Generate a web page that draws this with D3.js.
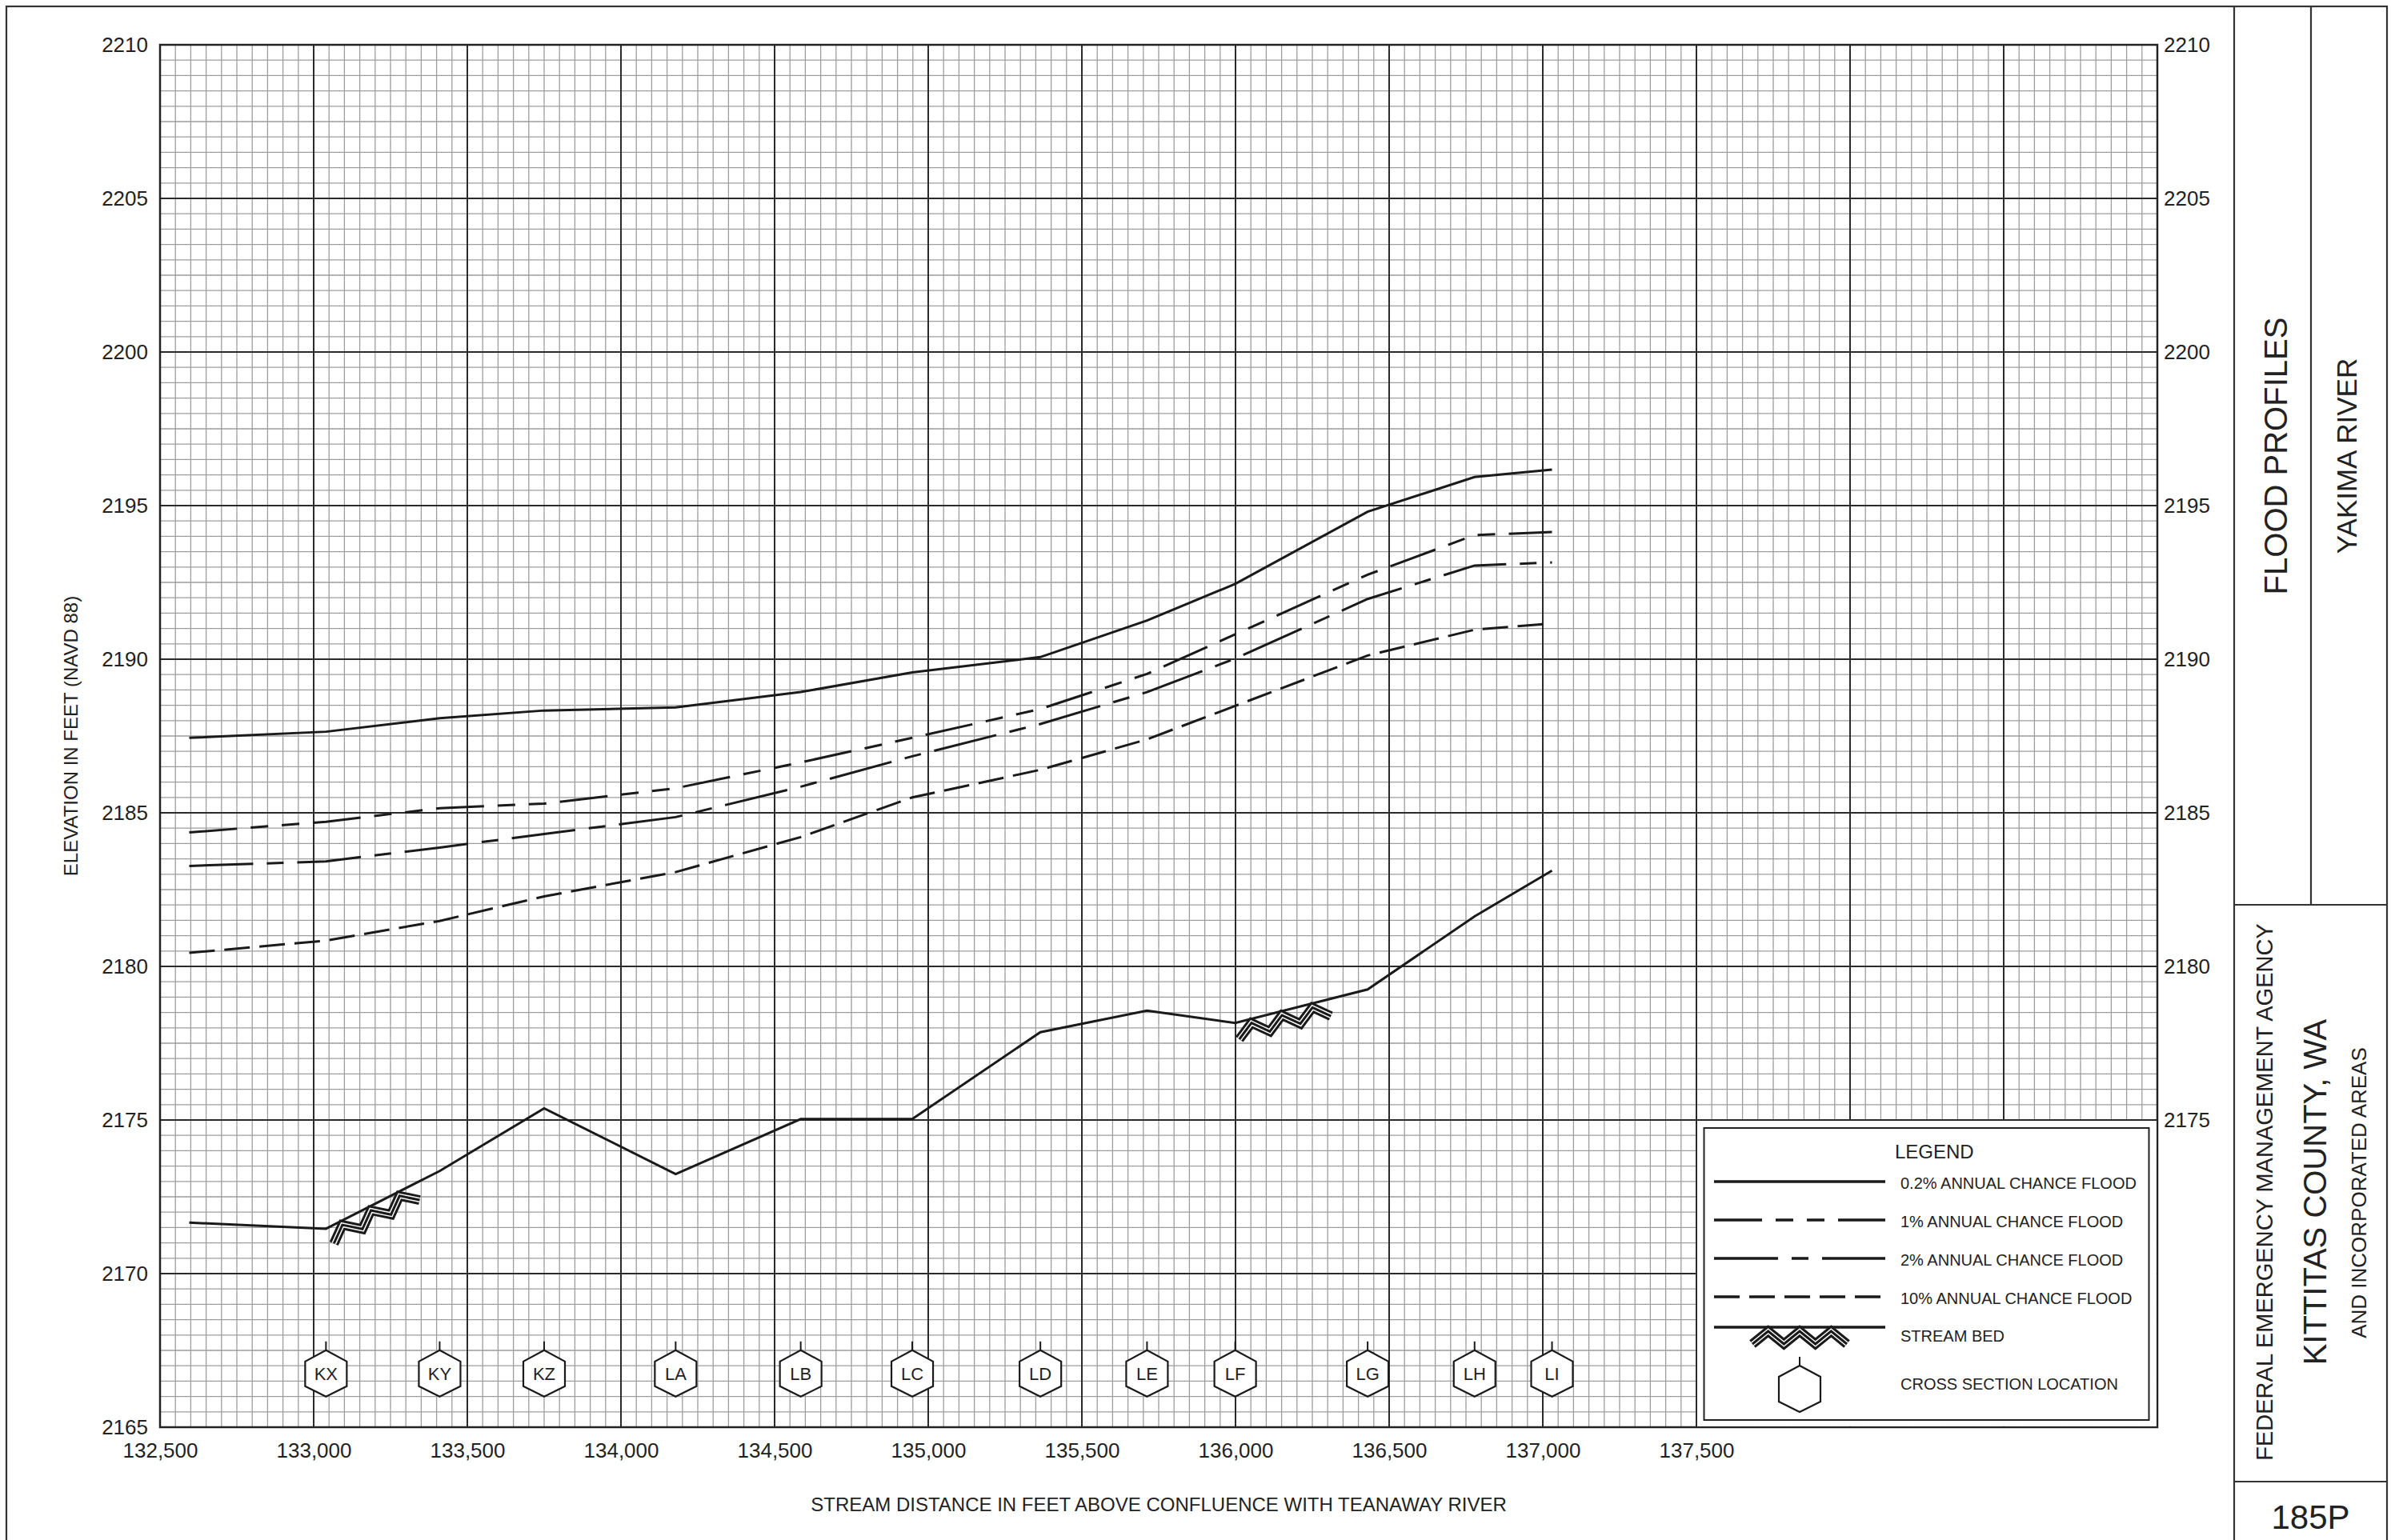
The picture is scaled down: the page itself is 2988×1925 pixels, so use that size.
<!DOCTYPE html>
<html>
<head>
<meta charset="utf-8">
<script src="https://cdn.jsdelivr.net/npm/d3@7"></script>
<style>
body { margin: 0; background: #fff; }
text { font-family: "Liberation Sans", Arial, sans-serif; fill: #222; }
</style>
</head>
<body>
<div id="chart-area"></div>
<script>
// cross sections along the profile
var xsLabels = ["KX", "KY", "KZ", "LA", "LB", "LC", "LD", "LE", "LF", "LG", "LH", "LI"];
var xsDist = [133040, 133410, 133750, 134178, 134585, 134948, 135365, 135712, 135999, 136430, 136778, 137030];
// profiles start a bit before KX
var profileDist = [132595].concat(xsDist);

var flood02 = [2187.44, 2187.64, 2188.08, 2188.33, 2188.43, 2188.93, 2189.57, 2190.07, 2191.26, 2192.45, 2194.80, 2195.93, 2196.17];
var flood1 = [2184.36, 2184.71, 2185.15, 2185.30, 2185.80, 2186.64, 2187.44, 2188.38, 2189.52, 2190.81, 2192.75, 2194.04, 2194.14];
var flood2 = [2183.27, 2183.42, 2183.87, 2184.31, 2184.86, 2185.85, 2186.84, 2187.89, 2188.93, 2190.02, 2191.96, 2193.05, 2193.15];
var flood10 = [2180.44, 2180.84, 2181.48, 2182.28, 2183.07, 2184.21, 2185.50, 2186.40, 2187.39, 2188.48, 2190.12, 2190.96, 2191.16];
var streamBed = [2171.66, 2171.46, 2173.34, 2175.38, 2173.24, 2175.03, 2175.03, 2177.86, 2178.56, 2178.16, 2179.25, 2181.63, 2183.12];

// stream bed hatching ranges (feet)
var hatchFrom = [133041, 135999];
var hatchTo = [133320, 136297];

var xTicks = [132500, 133000, 133500, 134000, 134500, 135000, 135500, 136000, 136500, 137000, 137500];
var yTicks = [2165, 2170, 2175, 2180, 2185, 2190, 2195, 2200, 2205, 2210];
var yTicksRight = [2175, 2180, 2185, 2190, 2195, 2200, 2205, 2210];

var legendNames = ["0.2% ANNUAL CHANCE FLOOD", "1% ANNUAL CHANCE FLOOD", "2% ANNUAL CHANCE FLOOD", "10% ANNUAL CHANCE FLOOD"];
var dashes = ["none", "60,17,22,17,22,17", "80,17,21,17", "32,12"];

var width = 2988;
var height = 1925;
var plot = {left: 200, right: 2696, top: 56, bottom: 1784};
var font = "'Liberation Sans', Arial, sans-serif";

var svg = d3.select("#chart-area").append("svg")
    .attr("width", width)
    .attr("height", height);

var x = d3.scaleLinear().domain([132500, 139000]).range([plot.left, plot.right]);
var y = d3.scaleLinear().domain([2165, 2210]).range([plot.bottom, plot.top]);

// grid
var minorX = d3.range(132500, 139001, 50).filter(d => d % 500 != 0);
var majorX = d3.range(132500, 139001, 500);
var minorY = d3.range(2165, 2210.01, 0.5).filter(d => d % 5 != 0);
var majorY = d3.range(2165, 2210.01, 5);

var grid = svg.append("g");
grid.selectAll(".mx").data(minorX).enter().append("line")
    .attr("x1", d => x(d)).attr("x2", d => x(d))
    .attr("y1", plot.top).attr("y2", plot.bottom)
    .attr("stroke", "#9e9e9e").attr("stroke-width", 1.3);
grid.selectAll(".my").data(minorY).enter().append("line")
    .attr("x1", plot.left).attr("x2", plot.right)
    .attr("y1", d => y(d)).attr("y2", d => y(d))
    .attr("stroke", "#9e9e9e").attr("stroke-width", 1.3);
grid.selectAll(".Mx").data(majorX).enter().append("line")
    .attr("x1", d => x(d)).attr("x2", d => x(d))
    .attr("y1", plot.top).attr("y2", plot.bottom)
    .attr("stroke", "#2b2b2b").attr("stroke-width", 2);
grid.selectAll(".My").data(majorY).enter().append("line")
    .attr("x1", plot.left).attr("x2", plot.right)
    .attr("y1", d => y(d)).attr("y2", d => y(d))
    .attr("stroke", "#2b2b2b").attr("stroke-width", 2);

svg.append("rect")
    .attr("x", plot.left).attr("y", plot.top)
    .attr("width", plot.right - plot.left).attr("height", plot.bottom - plot.top)
    .attr("fill", "none").attr("stroke", "#222").attr("stroke-width", 2.5);

// axes
var leftAxis = d3.axisLeft(y).tickValues(yTicks).tickSize(0).tickPadding(15).tickFormat(d3.format("d"));
var la = svg.append("g").attr("transform", "translate(" + plot.left + ",0)").call(leftAxis);
var rightAxis = d3.axisRight(y).tickValues(yTicksRight).tickSize(0).tickPadding(8).tickFormat(d3.format("d"));
var ra = svg.append("g").attr("transform", "translate(" + plot.right + ",0)").call(rightAxis);
var bottomAxis = d3.axisBottom(x).tickValues(xTicks).tickSize(0).tickPadding(20).tickFormat(d3.format(","));
var ba = svg.append("g").attr("transform", "translate(0," + plot.bottom + ")").call(bottomAxis);
[la, ra, ba].forEach(a => {
    a.select(".domain").remove();
    a.attr("font-size", 26).attr("font-family", font);
    a.selectAll("text").attr("fill", "#222");
});

svg.append("text")
    .attr("x", (plot.left + plot.right) / 2)
    .attr("y", 1889)
    .attr("font-size", 24)
    .attr("text-anchor", "middle")
    .text("STREAM DISTANCE IN FEET ABOVE CONFLUENCE WITH TEANAWAY RIVER");
svg.append("text")
    .attr("transform", "translate(97," + ((plot.top + plot.bottom) / 2) + ") rotate(-90)")
    .attr("font-size", 24)
    .attr("text-anchor", "middle")
    .text("ELEVATION IN FEET (NAVD 88)");

// profiles
var line = d3.line().x(d => x(d[0])).y(d => y(d[1]));
var series = [flood02, flood1, flood2, flood10];
series.forEach((s, i) => {
    svg.append("path")
        .attr("d", line(profileDist.map((d, j) => [d, s[j]])))
        .attr("fill", "none")
        .attr("stroke", "#1a1a1a")
        .attr("stroke-width", 3)
        .attr("stroke-dasharray", dashes[i]);
});
svg.append("path")
    .attr("d", line(profileDist.map((d, j) => [d, streamBed[j]])))
    .attr("fill", "none").attr("stroke", "#1a1a1a").attr("stroke-width", 3);

// triple-line zigzag hatch under a segment
function hatch(p0, p1, depth) {
    var dx = p1[0] - p0[0], dy = p1[1] - p0[1];
    var L = Math.sqrt(dx * dx + dy * dy);
    var ux = dx / L, uy = dy / L;
    var nx = -uy, ny = ux;
    var pts = d3.range(7).map(i => {
        var t = i / 6 * L;
        var off = (i % 2 == 0 ? depth : 0) + 5;
        return [p0[0] + ux * t + nx * off, p0[1] + uy * t + ny * off];
    });
    var g = svg.append("g").attr("fill", "none").attr("stroke-linejoin", "miter");
    var d = d3.line()(pts);
    g.append("path").attr("d", d).attr("stroke", "#1a1a1a").attr("stroke-width", 12);
    g.append("path").attr("d", d).attr("stroke", "#fff").attr("stroke-width", 6);
    g.append("path").attr("d", d).attr("stroke", "#1a1a1a").attr("stroke-width", 3);
}
var bedAt = d3.scaleLinear().domain(profileDist).range(streamBed);
hatchFrom.forEach((f, i) => {
    hatch([x(f), y(bedAt(f))], [x(hatchTo[i]), y(bedAt(hatchTo[i]))], 16);
});

// cross-section markers
function hexagon(g, cx, cy) {
    var pts = [[cx, cy - 29], [cx + 26, cy - 15], [cx + 26, cy + 16], [cx, cy + 29], [cx - 26, cy + 16], [cx - 26, cy - 15]];
    g.append("line").attr("x1", cx).attr("x2", cx).attr("y1", cy - 40).attr("y2", cy - 29)
        .attr("stroke", "#1a1a1a").attr("stroke-width", 2);
    g.append("polygon").attr("points", pts.map(p => p.join(",")).join(" "))
        .attr("fill", "#fff").attr("stroke", "#1a1a1a").attr("stroke-width", 2.2);
}
var xsY = y(2166.75);
xsLabels.forEach((lab, i) => {
    var g = svg.append("g");
    hexagon(g, x(xsDist[i]), xsY);
    g.append("text").attr("x", x(xsDist[i])).attr("y", xsY + 8)
        .attr("font-size", 22).attr("text-anchor", "middle").text(lab);
});

// legend
var lx0 = x(137500), ly0 = y(2175);
svg.append("rect").attr("x", lx0 + 1).attr("y", ly0 + 1)
    .attr("width", plot.right - lx0 - 2.2).attr("height", plot.bottom - ly0 - 2.2)
    .attr("fill", "#fff");
svg.append("rect").attr("x", lx0 + 9.5).attr("y", ly0 + 10)
    .attr("width", plot.right - lx0 - 20).attr("height", plot.bottom - ly0 - 19)
    .attr("fill", "none").attr("stroke", "#222").attr("stroke-width", 2);
svg.append("text").attr("x", 2368).attr("y", 1448).attr("font-size", 24).text("LEGEND");
var rowY = [1477, 1525, 1573, 1621];
legendNames.forEach((n, i) => {
    svg.append("line").attr("x1", 2142).attr("x2", 2356).attr("y1", rowY[i]).attr("y2", rowY[i])
        .attr("stroke", "#1a1a1a").attr("stroke-width", 3.3).attr("stroke-dasharray", dashes[i]);
    svg.append("text").attr("x", 2375).attr("y", rowY[i] + 9).attr("font-size", 20).text(n);
});
svg.append("line").attr("x1", 2142).attr("x2", 2356).attr("y1", 1659).attr("y2", 1659)
    .attr("stroke", "#1a1a1a").attr("stroke-width", 3.5);
hatch([2190, 1659], [2308, 1659], 16);
svg.append("text").attr("x", 2375).attr("y", 1677).attr("font-size", 20).text("STREAM BED");
hexagon(svg.append("g"), 2249, 1736);
svg.append("text").attr("x", 2375).attr("y", 1737).attr("font-size", 20).text("CROSS SECTION LOCATION");

// sheet border and title block
var border = svg.append("g").attr("stroke", "#333").attr("stroke-width", 2.2).attr("fill", "none");
border.append("rect").attr("x", 8).attr("y", 8).attr("width", 2975).attr("height", 1940);
border.append("line").attr("x1", 2792).attr("x2", 2792).attr("y1", 8).attr("y2", 1930);
border.append("line").attr("x1", 2888).attr("x2", 2888).attr("y1", 8).attr("y2", 1131);
border.append("line").attr("x1", 2792).attr("x2", 2983).attr("y1", 1131).attr("y2", 1131);
border.append("line").attr("x1", 2792).attr("x2", 2983).attr("y1", 1852).attr("y2", 1852);

function vtext(bx, cy, size, t) {
    svg.append("text")
        .attr("transform", "translate(" + bx + "," + cy + ") rotate(-90)")
        .attr("font-size", size).attr("text-anchor", "middle").text(t);
}
vtext(2858, 570, 40, "FLOOD PROFILES");
vtext(2945, 570, 35, "YAKIMA RIVER");
vtext(2840, 1490, 29, "FEDERAL EMERGENCY MANAGEMENT AGENCY");
vtext(2907, 1490, 40, "KITTITAS COUNTY, WA");
vtext(2957, 1491, 26, "AND INCORPORATED AREAS");
svg.append("text").attr("x", 2887.5).attr("y", 1911).attr("font-size", 42)
    .attr("text-anchor", "middle").text("185P");
</script>
</body>
</html>
